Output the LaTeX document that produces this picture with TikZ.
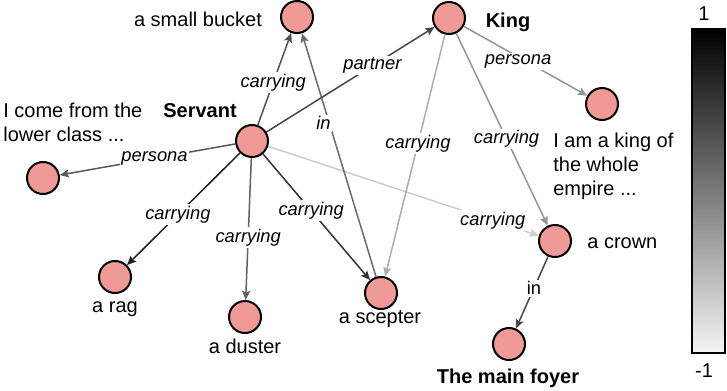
\documentclass[tikz,border=0pt]{standalone}
\usepackage{fontspec}
\setmainfont{Liberation Sans}
\usetikzlibrary{arrows.meta}

\definecolor{nodepink}{RGB}{240,154,152}

\begin{document}
\begin{tikzpicture}[x=0.6pt,y=-0.6pt,
  ent/.style={circle,draw=black,line width=1.2pt,fill=nodepink,minimum size=19.2pt,inner sep=0pt},
  txt/.style={inner sep=0pt,font=\fontsize{12}{14.2}\selectfont},
  rel/.style={line width=0.9pt,-{Stealth[length=5.5pt,width=4.8pt,inset=1pt]}},
  lab/.style={fill=white,inner sep=1pt,font=\fontsize{11}{13}\selectfont\itshape}]
\useasboundingbox (0,0) rectangle (727,390);

% entities
\node[ent] (servant) at (252,141) {};
\node[ent] (king)    at (449,18)  {};
\node[ent] (bucket)  at (297,17)  {};
\node[ent] (spers)   at (43,178)  {};
\node[ent] (kpers)   at (602,104) {};
\node[ent] (rag)     at (115,277) {};
\node[ent] (duster)  at (245,317) {};
\node[ent] (scepter) at (381,293) {};
\node[ent] (crown)   at (555,241) {};
\node[ent] (foyer)   at (509,344) {};

% names
\node[txt,anchor=base] at (198,26) {a small bucket};
\node[txt,anchor=base,font=\fontsize{12}{14.2}\selectfont\bfseries] at (200,117) {Servant};
\node[txt,anchor=base,font=\fontsize{12}{14.2}\selectfont\bfseries] at (508,27) {King};
\node[txt,anchor=north west,align=left] at (3,103) {I come from the\\lower class ...};
\node[txt,anchor=north west,align=left] at (553,133) {I am a king of\\the whole\\empire ...};
\node[txt,anchor=base] at (115,312) {a rag};
\node[txt,anchor=base] at (245,353) {a duster};
\node[txt,anchor=base] at (380,323) {a scepter};
\node[txt,anchor=base west] at (587,248) {a crown};
\node[txt,anchor=base,font=\fontsize{12}{14.2}\selectfont\bfseries] at (508,383) {The main foyer};

% relations, shade = weight
\draw[rel,draw=black!20] (servant) -- node[lab,pos=.83] {carrying} (crown);
\draw[rel,draw=black!32] (king) -- node[lab,pos=.45] {carrying} (scepter);
\draw[rel,draw=black!42] (king) -- node[lab,pos=.55] {carrying} (crown);
\draw[rel,draw=black!42] (king) -- node[lab,pos=.44,yshift=-3pt] {persona} (kpers);
\draw[rel,draw=black!58] (scepter) -- node[lab,pos=.63,xshift=-3.5pt] {in} (bucket);
\draw[rel,draw=black!68] (servant) -- node[lab,pos=.46] {carrying} (bucket);
\draw[rel,draw=black!72] (servant) -- node[lab,pos=.63] {partner} (king);
\draw[rel,draw=black!65] (servant) -- node[lab,pos=.46] {persona} (spers);
\draw[rel,draw=black!88] (servant) -- node[lab,pos=.55] {carrying} (rag);
\draw[rel,draw=black!62] (servant) -- node[lab,pos=.56] {carrying} (duster);
\draw[rel,draw=black!80] (servant) -- node[lab,pos=.45] {carrying} (scepter);
\draw[rel,draw=black!72] (crown) -- node[lab,pos=.44,font=\fontsize{11}{13}\selectfont] {in} (foyer);

% colour bar
\shade[top color=black,bottom color=black!4] (692,29) rectangle (725,353);
\draw[line width=1.2pt] (692,29) rectangle (725,353);
\node[txt,anchor=base] at (704,20) {1};
\node[txt,anchor=base] at (704,377) {-1};
\end{tikzpicture}
\end{document}
